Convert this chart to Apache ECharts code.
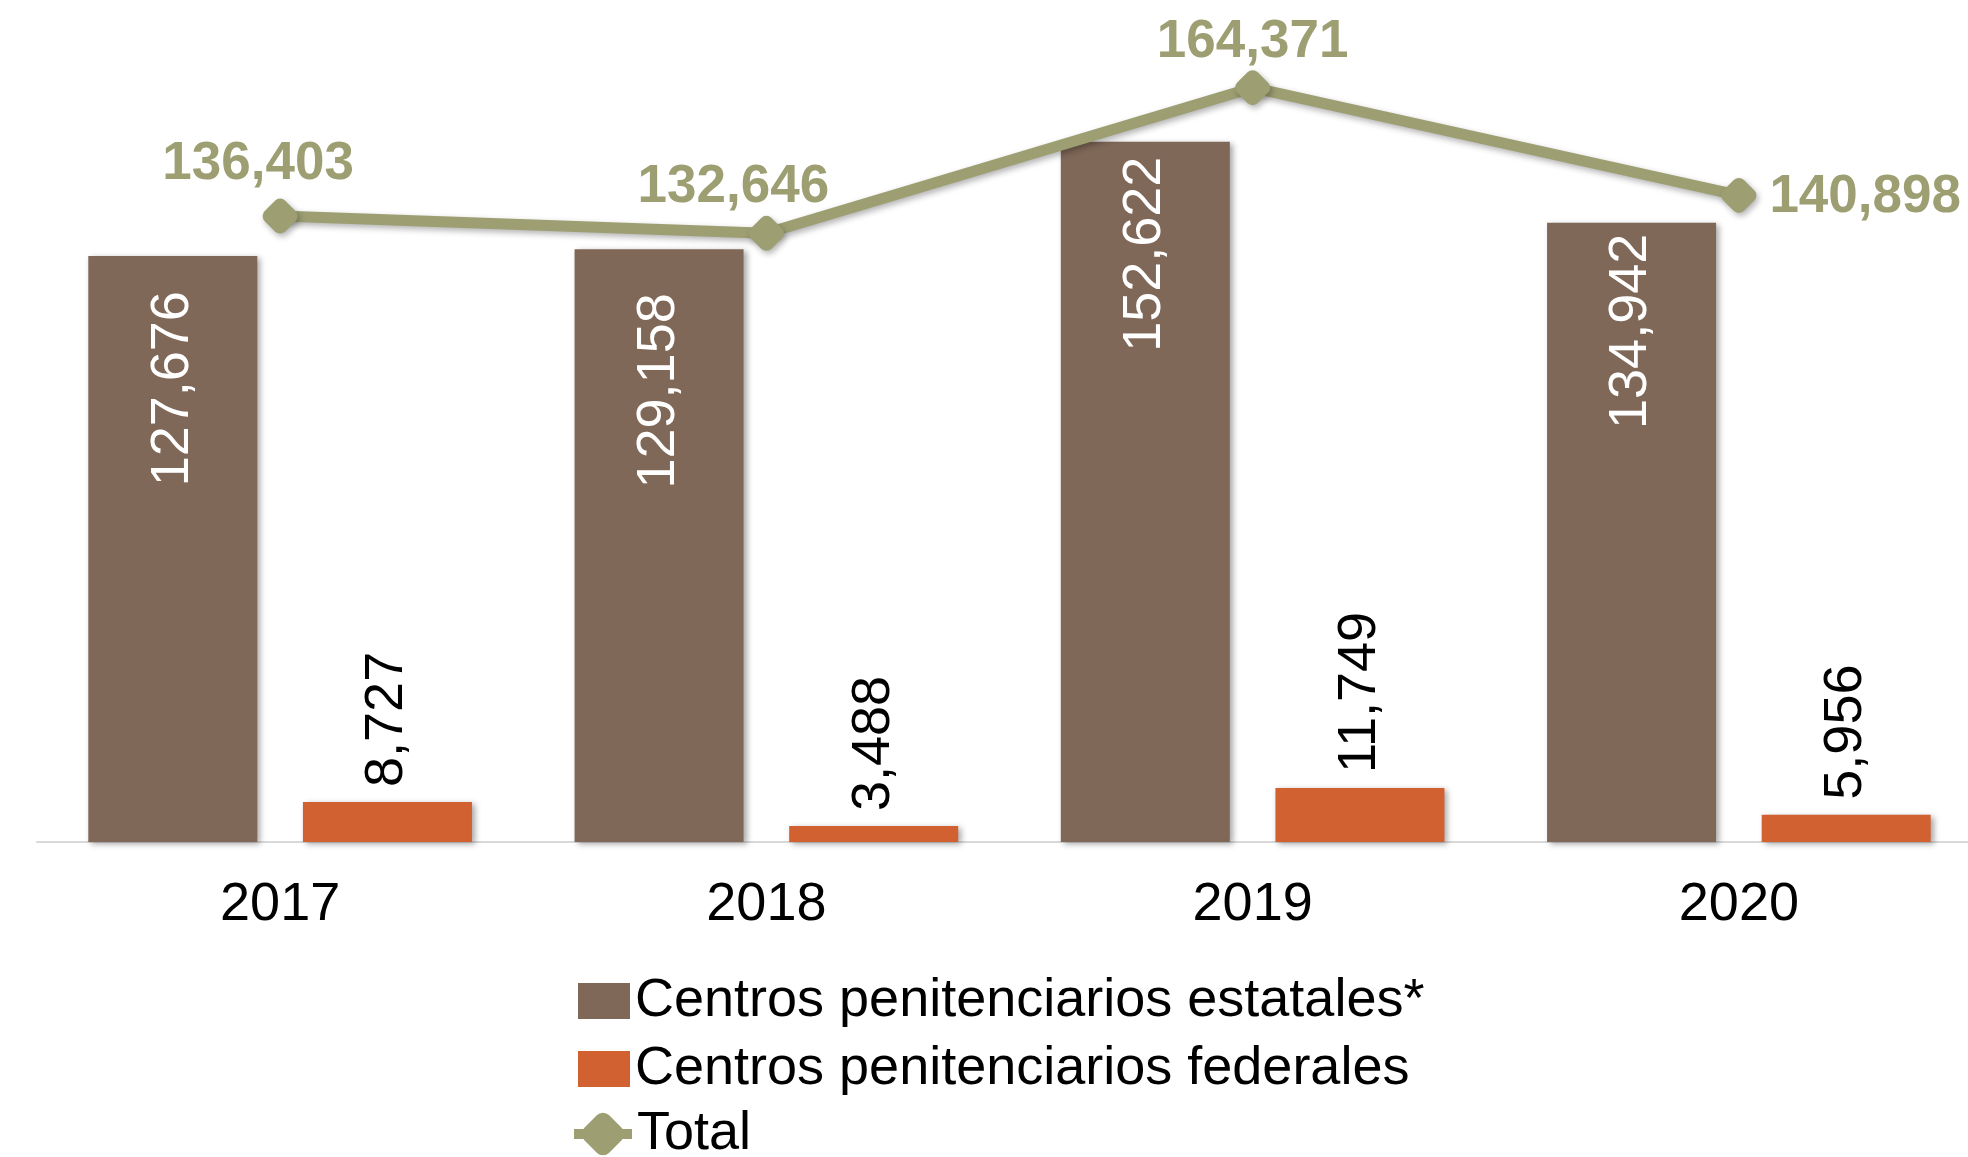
<!DOCTYPE html>
<html>
<head>
<meta charset="utf-8">
<script src="https://cdn.jsdelivr.net/npm/echarts@6/dist/echarts.min.js"></script>
<style>
html,body{margin:0;padding:0;background:#fff;}
#chart{width:1968px;height:1157px;}
</style>
</head>
<body>
<div id="chart"></div>
<script>
const categories = ['2017', '2018', '2019', '2020'];
const estatales = [127676, 129158, 152622, 134942];
const federales = [8727, 3488, 11749, 5956];
const total = [136403, 132646, 164371, 140898];
const seriesNames = ['Centros penitenciarios estatales*', 'Centros penitenciarios federales', 'Total'];

const FONT = '"Liberation Sans", Arial, sans-serif';
const fmt = v => v.toLocaleString('en-US');

const totalLabelPos = [
  { position: 'inside', offset: [-22, -52] },
  { position: 'inside', offset: [-33, -46] },
  { position: 'inside', offset: [0, -45] },
  { position: 'right', distance: 10, offset: [0, 2] }
];
const estatalLabelDist = [35, 44, 15, 11];

const legendBase = {
  orient: 'vertical',
  left: 578,
  padding: 0,
  itemWidth: 52,
  itemHeight: 36,
  itemGap: 14,
  textStyle: { color: '#000', fontFamily: FONT, fontSize: 54, lineHeight: 52 }
};

const chart = echarts.init(document.getElementById('chart'), null, { renderer: 'canvas' });
chart.setOption({
  animation: false,
  backgroundColor: '#ffffff',
  grid: { left: 37, width: 1945, top: 16, bottom: 315, containLabel: false, outerBoundsMode: 'none' },
  xAxis: {
    type: 'category',
    data: categories,
    axisLine: { show: true, lineStyle: { color: '#d9d9d9', width: 2 } },
    axisTick: { show: false },
    axisLabel: { color: '#000', fontFamily: FONT, fontSize: 54, lineHeight: 54, margin: 36 }
  },
  yAxis: { type: 'value', min: 0, max: 180000, show: false, splitLine: { show: false } },
  legend: [
    Object.assign({}, legendBase, {
      top: 974,
      data: [
        { name: seriesNames[0], icon: 'rect' },
        { name: seriesNames[1], icon: 'rect' }
      ]
    }),
    Object.assign({}, legendBase, {
      top: 1107,
      left: 569,
      itemWidth: 58,
      itemHeight: 44,
      data: [{ name: seriesNames[2], lineStyle: { width: 10, shadowBlur: 0 }, itemStyle: { shadowBlur: 0 } }]
    })
  ],
  series: [
    {
      name: seriesNames[0],
      type: 'bar',
      data: estatales.map((v, i) => ({ value: v, label: { distance: estatalLabelDist[i] } })),
      barWidth: 169,
      barGap: '27%',
      itemStyle: {
        color: '#806858',
        shadowColor: 'rgba(0,0,0,0.35)', shadowBlur: 6, shadowOffsetX: 3, shadowOffsetY: 2
      },
      label: {
        show: true,
        position: 'insideTop',
        rotate: 90,
        align: 'right',
        verticalAlign: 'middle',
        color: '#fff',
        fontFamily: FONT,
        fontSize: 54,
        formatter: p => fmt(p.value)
      }
    },
    {
      name: seriesNames[1],
      type: 'bar',
      data: federales,
      barWidth: 169,
      barGap: '27%',
      itemStyle: {
        color: '#d16130',
        shadowColor: 'rgba(0,0,0,0.35)', shadowBlur: 6, shadowOffsetX: 3, shadowOffsetY: 2
      },
      label: {
        show: true,
        position: 'top',
        distance: 15,
        rotate: 90,
        align: 'left',
        verticalAlign: 'middle',
        color: '#000',
        fontFamily: FONT,
        fontSize: 54,
        formatter: p => fmt(p.value)
      }
    },
    {
      name: seriesNames[2],
      type: 'line',
      z: 5,
      data: total.map((v, i) => ({ value: v, label: totalLabelPos[i] })),
      symbol: 'roundRect',
      symbolSize: 29,
      symbolRotate: 45,
      lineStyle: {
        color: '#9d9f72', width: 11,
        shadowColor: 'rgba(0,0,0,0.3)', shadowBlur: 6, shadowOffsetX: 2, shadowOffsetY: 3
      },
      itemStyle: {
        color: '#9d9f72',
        shadowColor: 'rgba(0,0,0,0.3)', shadowBlur: 6, shadowOffsetX: 2, shadowOffsetY: 3
      },
      label: {
        show: true,
        color: '#9d9f72',
        fontFamily: FONT,
        fontWeight: 'bold',
        fontSize: 53,
        formatter: p => fmt(p.value)
      }
    }
  ]
});
</script>
</body>
</html>
